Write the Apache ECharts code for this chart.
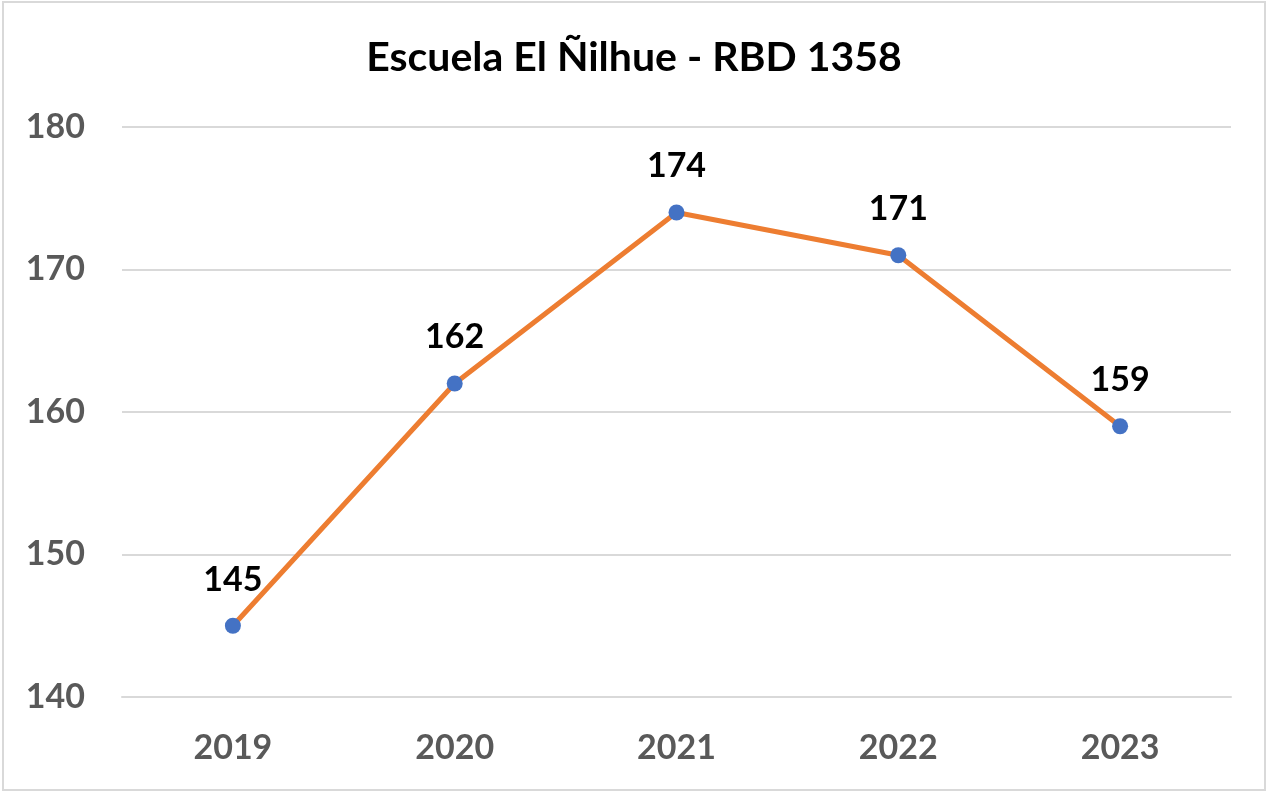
<!DOCTYPE html>
<html>
<head>
<meta charset="utf-8">
<script src="https://cdn.jsdelivr.net/npm/echarts@6/dist/echarts.min.js"></script>
<style>
    html, body { margin: 0; padding: 0; background: #fff; }
    #frame {
        position: absolute; left: 2px; top: 1px;
        width: 1260px; height: 786px;
        border: 2px solid #d9d9d9;
    }
    #chart { position: absolute; left: 0; top: 0; width: 1268px; height: 792px; }
</style>
</head>
<body>
<div id="frame"></div>
<div id="chart"></div>
<script>
const years = ['2019', '2020', '2021', '2022', '2023'];
const students = [145, 162, 174, 171, 159];

const chart = echarts.init(document.getElementById('chart'));

const option = {
    animation: false,
    textStyle: { fontFamily: 'Lato' },
    title: {
        text: 'Escuela El Ñilhue - RBD 1358',
        left: 'center',
        top: 32,
        textStyle: {
            fontFamily: 'Lato',
            fontSize: 41,
            fontWeight: 'bold',
            color: '#000',
        },
    },
    grid: {
        left: 122,
        right: 37,
        top: 127,
        bottom: 95,
        containLabel: false,
    },
    xAxis: {
        type: 'category',
        data: years,
        boundaryGap: true,
        axisLine: { show: true, lineStyle: { color: '#d9d9d9', width: 2 } },
        axisTick: { show: false },
        axisLabel: {
            color: '#595959',
            fontSize: 34,
            fontWeight: 'bold',
            margin: 34,
        },
    },
    yAxis: {
        type: 'value',
        min: 140,
        max: 180,
        interval: 10,
        axisLine: { show: false },
        axisTick: { show: false },
        splitLine: { lineStyle: { color: '#d9d9d9', width: 2 } },
        axisLabel: {
            color: '#595959',
            fontSize: 34,
            fontWeight: 'bold',
            margin: 37,
        },
    },
    series: [
        {
            type: 'line',
            data: students,
            symbol: 'circle',
            symbolSize: 16,
            itemStyle: { color: '#4472C4' },
            lineStyle: { color: '#ED7D31', width: 5 },
            label: {
                show: true,
                position: 'top',
                distance: 21,
                color: '#000',
                fontSize: 34,
                fontWeight: 'bold',
            },
        },
    ],
};

chart.setOption(option);
</script>
</body>
</html>
